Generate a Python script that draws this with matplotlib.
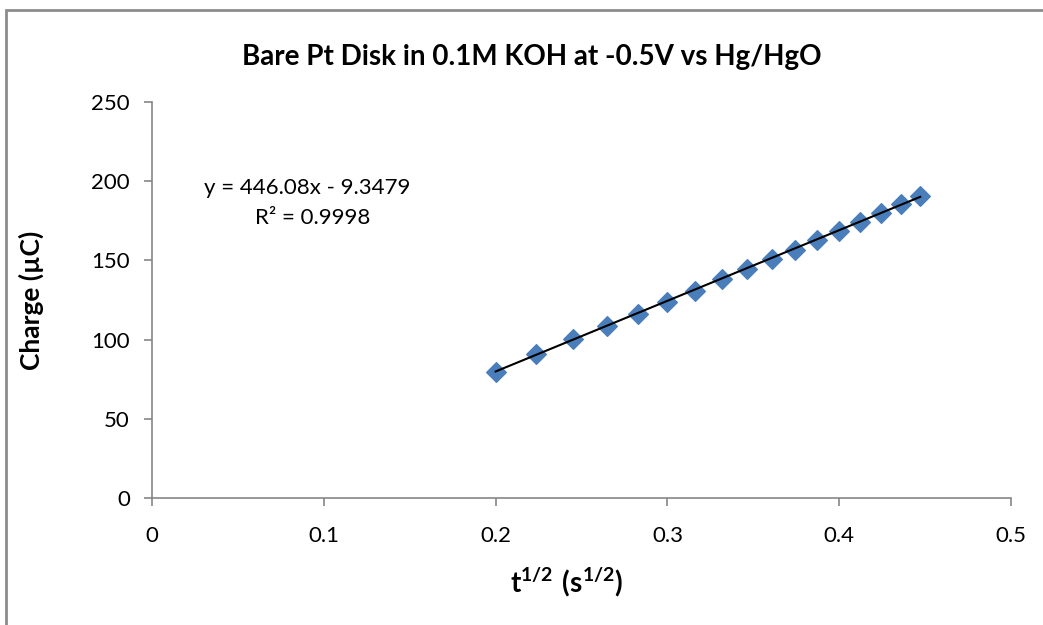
import matplotlib.pyplot as plt
from matplotlib.patches import Rectangle
import numpy as np

# sqrt(t) values and measured charge
t_sqrt = [0.2000, 0.2236, 0.2449, 0.2646, 0.2828, 0.3000, 0.3162, 0.3317, 0.3464,
          0.3606, 0.3742, 0.3873, 0.4000, 0.4123, 0.4243, 0.4359, 0.4472]
charge = [79.7, 90.7, 100.2, 108.8, 116.4, 123.7, 130.9, 138.1, 144.4,
          150.7, 156.8, 162.9, 168.8, 174.2, 180.1, 185.8, 190.9]

slope = 446.08
intercept = -9.3479
r_squared = 0.9998

x_ticks = [0, 0.1, 0.2, 0.3, 0.4, 0.5]
y_ticks = [0, 50, 100, 150, 200, 250]

plt.rcParams['font.family'] = ['Lato', 'DejaVu Sans']
plt.rcParams['mathtext.fontset'] = 'custom'
plt.rcParams['mathtext.rm'] = 'Lato'
plt.rcParams['mathtext.bf'] = 'Lato:bold'
axis_gray = '#868686'

fig = plt.figure(figsize=(10.43, 6.25), dpi=100)
ax = fig.add_axes([152 / 1043, 1 - 498 / 625, (1011 - 152) / 1043, (498 - 102) / 625])

# chart area border
fig.patches.append(Rectangle((6 / 1043, -0.1), 1.2, 1 - 10 / 625 + 0.1,
                             transform=fig.transFigure, fill=False,
                             edgecolor='#8c8c8c', linewidth=2))

# trendline
xs = np.array([min(t_sqrt), max(t_sqrt)])
ax.plot(xs, slope * xs + intercept, color='black', linewidth=1.5, zorder=3)

ax.scatter(t_sqrt, charge, marker='D', s=100, color='#4a7ebb', zorder=2)

ax.set_xlim(0, 0.5)
ax.set_ylim(0, 250)
ax.set_xticks(x_ticks)
ax.set_xticklabels(['0', '0.1', '0.2', '0.3', '0.4', '0.5'])
ax.set_yticks(y_ticks)

for s in ['top', 'right']:
    ax.spines[s].set_visible(False)
for s in ['left', 'bottom']:
    ax.spines[s].set_color(axis_gray)
    ax.spines[s].set_linewidth(1.2)
ax.tick_params(direction='out', length=6, width=1.2, color=axis_gray,
               labelsize=16, pad=10)
ax.tick_params(axis='x', pad=14)

fig.text(532 / 1043, 1 - 57 / 625, 'Bare Pt Disk in 0.1M KOH at -0.5V vs Hg/HgO',
         fontsize=20, fontweight='bold', ha='center', va='center')
ax.set_xlabel(r'$\mathbf{t^{1/2}\ (s^{1/2})}$', fontsize=20, labelpad=12)
ax.xaxis.set_label_coords((566 - 152) / (1011 - 152), -0.17)
ax.set_ylabel('Charge (µC)', fontsize=19, fontweight='bold', labelpad=34)

ax.text(0.0904, 196, f'y = {slope}x - {abs(intercept)}', fontsize=16,
        ha='center', va='center')
ax.text(0.0935, 177, f'R² = {r_squared}', fontsize=16, ha='center', va='center')

fig.savefig('out.png', dpi=100)
